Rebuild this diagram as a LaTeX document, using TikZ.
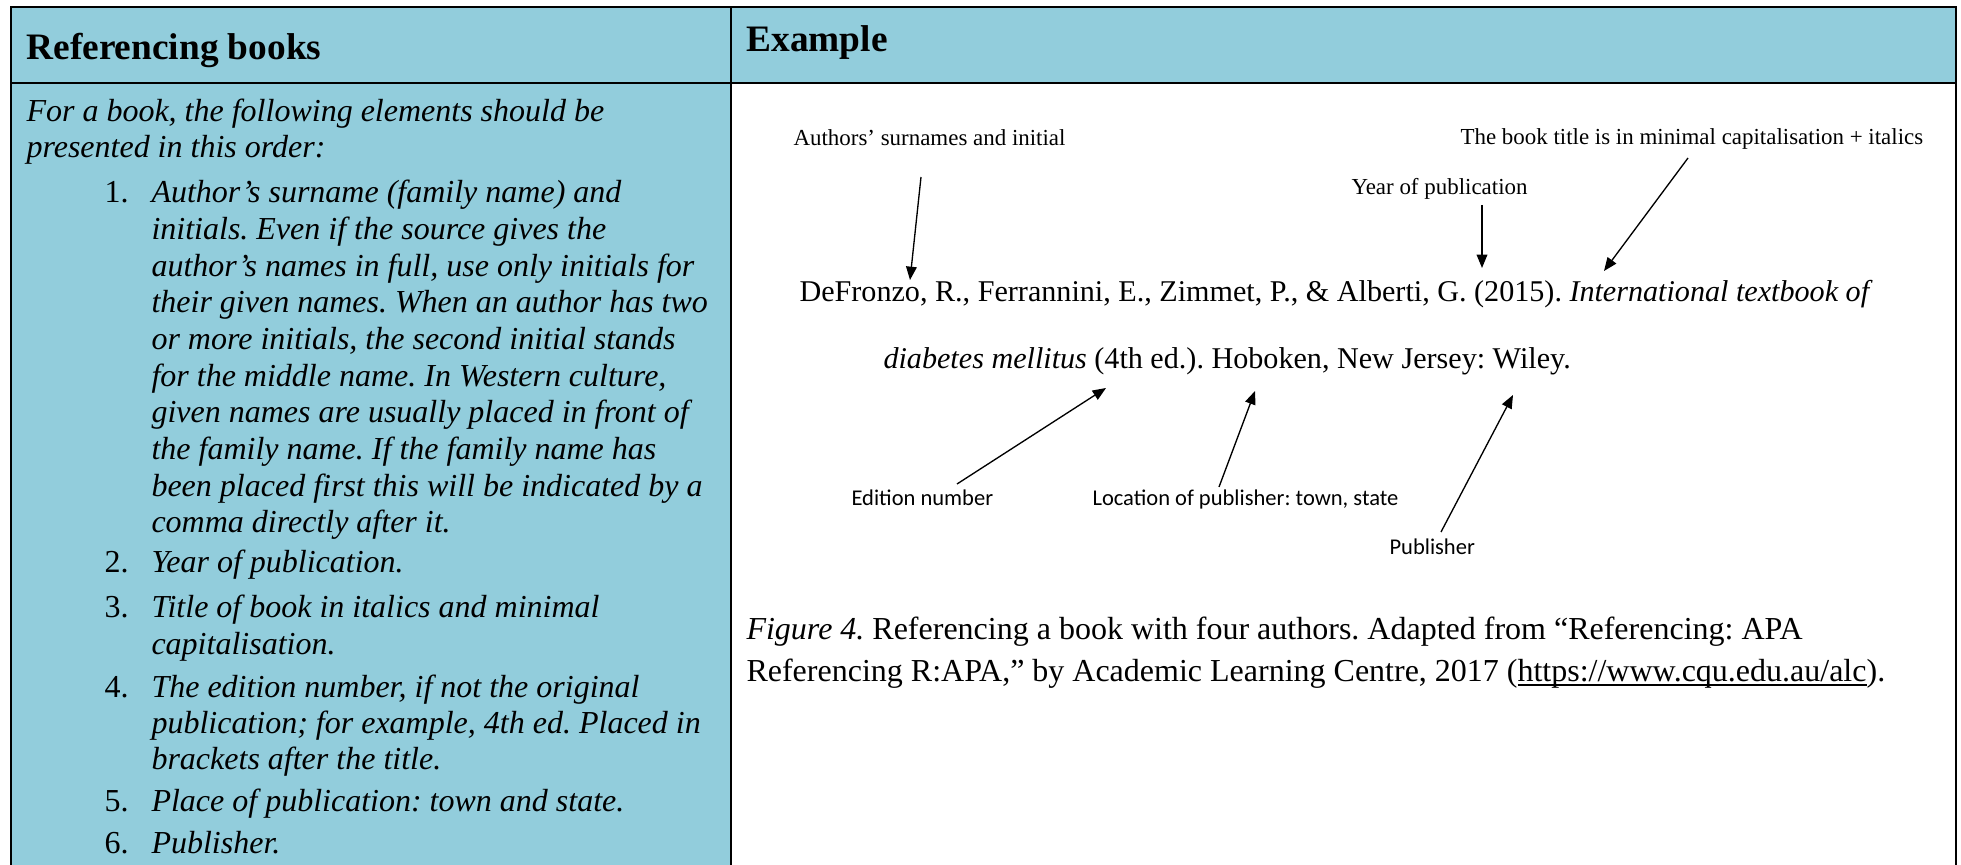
\documentclass[tikz,border=0pt]{standalone}
\usepackage{fontspec}
\setmainfont{Liberation Serif}
\newfontfamily\calibrifont{Carlito}
\usetikzlibrary{arrows.meta}
\definecolor{headblue}{HTML}{92CDDC}
\newcommand{\linkline}[1]{\setbox0\hbox{#1}\rlap{\rule[-1.5pt]{\wd0}{0.6pt}}\box0}
\frenchspacing

\begin{document}
\begin{tikzpicture}[x=0.375pt,y=-0.375pt,
    txt/.style={anchor=base west,inner sep=0pt},
    head/.style={txt,font=\fontsize{14}{16}\selectfont\bfseries},
    body/.style={txt,font=\fontsize{12}{14}\selectfont\itshape},
    num/.style={txt,font=\fontsize{12}{14}\selectfont},
    refline/.style={txt,font=\fontsize{11.3}{13}\selectfont},
    note/.style={txt,font=\fontsize{8.6}{10}\selectfont},
    tag/.style={txt,font=\calibrifont\fontsize{8.45}{10}\selectfont},
    pointer/.style={-{Triangle[length=5pt,width=4pt]},line width=0.5pt}]
    \useasboundingbox (0,0) rectangle (1961,865);
    % table
    \fill[headblue] (11,7) rectangle (731,865);
    \fill[headblue] (731,7) rectangle (1956,83);
    \draw[line width=1.1pt] (11,865) -- (11,7) -- (1956,7) -- (1956,865);
    \draw[line width=1.1pt] (11,83) -- (1956,83);
    \draw[line width=1.1pt] (731,7) -- (731,865);
    \node[head] (hleft) at (26,60) {Referencing books};
    \node[head] (hright) at (746,52) {Example};
    % left column
    \node[body] (introa) at (26,122) {For a book, the following elements should be};
    \node[body] (introb) at (26,158) {presented in this order:};
    \node[num] (n1) at (104,203) {1.};
    \node[body] (i1a) at (151,203) {Author's surname (family name) and};
    \node[body] (i1b) at (151,240) {initials. Even if the source gives the};
    \node[body] (i1c) at (151,277) {author's names in full, use only initials for};
    \node[body] (i1d) at (151,313) {their given names. When an author has two};
    \node[body] (i1e) at (151,350) {or more initials, the second initial stands};
    \node[body] (i1f) at (151,387) {for the middle name. In Western culture,};
    \node[body] (i1g) at (151,423) {given names are usually placed in front of};
    \node[body] (i1h) at (151,460) {the family name. If the family name has};
    \node[body] (i1i) at (151,497) {been placed first this will be indicated by a};
    \node[body] (i1j) at (151,533) {comma directly after it.};
    \node[num] (n2) at (104,573) {2.};
    \node[body] (i2a) at (151,573) {Year of publication.};
    \node[num] (n3) at (104,618) {3.};
    \node[body] (i3a) at (151,618) {Title of book in italics and minimal};
    \node[body] (i3b) at (151,655) {capitalisation.};
    \node[num] (n4) at (104,698) {4.};
    \node[body] (i4a) at (151,698) {The edition number, if not the original};
    \node[body] (i4b) at (151,733) {publication; for example, 4th ed. Placed in};
    \node[body] (i4c) at (151,770) {brackets after the title.};
    \node[num] (n5) at (104,812) {5.};
    \node[body] (i5a) at (151,812) {Place of publication: town and state.};
    \node[num] (n6) at (104,853) {6.};
    \node[body] (i6a) at (151,853) {Publisher.};
    % right column
    \node[note] (authors) at (793,146) {Authors' surnames and initial};
    \node[note] (title) at (1460,145) {The book title is in minimal capitalisation + italics};
    \node[note] (year) at (1351,195) {Year of publication};
    \node[refline] (refa) at (799,302) {DeFronzo, R., Ferrannini, E., Zimmet, P., \& Alberti, G. (2015). \textit{International textbook of}};
    \node[refline] (refb) at (883,369) {\textit{diabetes mellitus} (4th ed.). Hoboken, New Jersey: Wiley.};
    \node[tag] (edition) at (851,506) {Edition number};
    \node[tag] (location) at (1092,506) {Location of publisher: town, state};
    \node[tag] (publisher) at (1389,555) {Publisher};
    \node[num] (capa) at (746,640) {\textit{Figure 4.} Referencing a book with four authors. Adapted from “Referencing: APA};
    \node[num] (capb) at (746,682) {Referencing R:APA,” by Academic Learning Centre, 2017 (\linkline{https://www.cqu.edu.au/alc}).};
    % arrows
    \coordinate (authtail) at (921,177);
    \coordinate (authtip) at (910,280);
    \coordinate (yeartail) at (1482,205);
    \coordinate (yeartip) at (1482,268);
    \coordinate (titletail) at (1688,158);
    \coordinate (titletip) at (1604,271);
    \coordinate (edtail) at (957,484);
    \coordinate (edtip) at (1106,388);
    \coordinate (loctail) at (1219,487);
    \coordinate (loctip) at (1255,391);
    \coordinate (pubtail) at (1441,532);
    \coordinate (pubtip) at (1513,395);
    \draw[pointer] (authtail) -- (authtip);
    \draw[pointer] (yeartail) -- (yeartip);
    \draw[pointer] (titletail) -- (titletip);
    \draw[pointer] (edtail) -- (edtip);
    \draw[pointer] (loctail) -- (loctip);
    \draw[pointer] (pubtail) -- (pubtip);
\end{tikzpicture}
\end{document}
